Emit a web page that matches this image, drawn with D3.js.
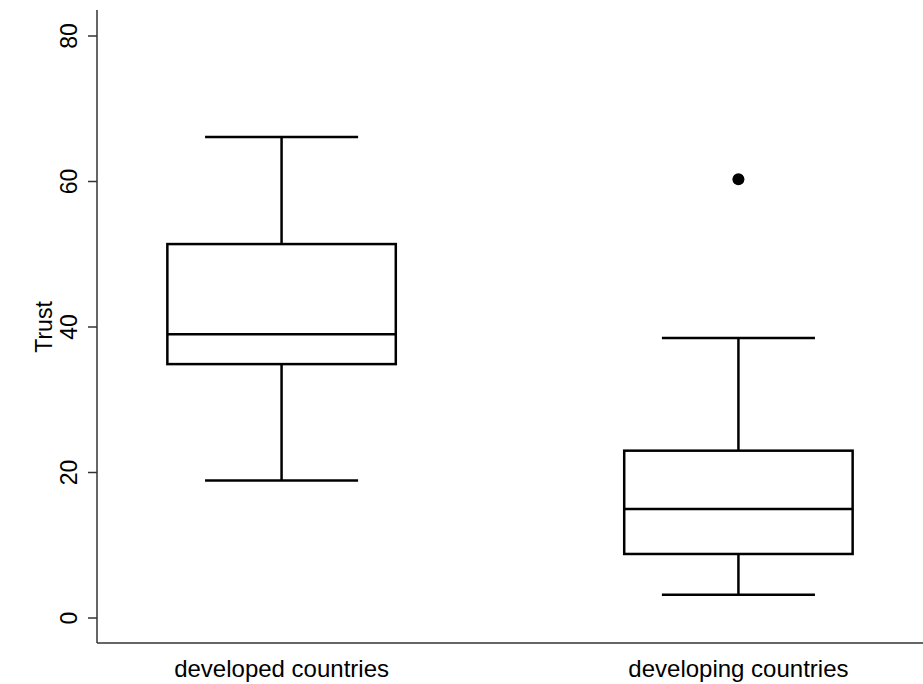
<!DOCTYPE html>
<html>
<head>
<meta charset="utf-8">
<script src="https://d3js.org/d3.v7.min.js"></script>
<style>
  body { margin: 0; background: #fff; }
  text { font-family: "Liberation Sans", Arial, sans-serif; fill: #000; }
</style>
</head>
<body>
<script>
var width = 923, height = 684;

// data
var groups = ["developed countries", "developing countries"];
var whiskerLow  = [18.9, 3.2];
var q1          = [34.9, 8.8];
var median      = [39.0, 15.0];
var q3          = [51.4, 23.0];
var whiskerHigh = [66.1, 38.5];
var outliers    = [[], [60.3]];
var yTicks = [0, 20, 40, 60, 80];

var svg = d3.select("body").append("svg")
  .attr("width", width)
  .attr("height", height);

var x = d3.scalePoint().domain(groups).range([97, 923]).padding(0.404);
var y = d3.scaleLinear().domain([0, 80]).range([618, 36]);
var step = x.step();
var boxW = step * 0.5, capW = step * 0.335;
var fs = "24px";

// axes
svg.append("line").attr("x1", 97).attr("x2", 97).attr("y1", 10).attr("y2", 643)
  .attr("stroke", "#333").attr("stroke-width", 1.5);
svg.append("line").attr("x1", 97).attr("x2", 923).attr("y1", 643).attr("y2", 643)
  .attr("stroke", "#333").attr("stroke-width", 1.5);

var yt = svg.append("g");
yt.selectAll("line").data(yTicks).enter().append("line")
  .attr("x1", 88).attr("x2", 97)
  .attr("y1", function(d){ return y(d); }).attr("y2", function(d){ return y(d); })
  .attr("stroke", "#333").attr("stroke-width", 1.5);
yt.selectAll("text").data(yTicks).enter().append("text")
  .attr("transform", function(d){ return "translate(77," + y(d) + ") rotate(-90)"; })
  .attr("text-anchor", "middle")
  .style("font-size", "23px")
  .text(function(d){ return d; });

svg.append("text")
  .attr("transform", "translate(52," + y(40) + ") rotate(-90)")
  .attr("text-anchor", "middle")
  .style("font-size", "23px")
  .text("Trust");

svg.selectAll(".xl").data(groups).enter().append("text")
  .attr("class", "xl")
  .attr("x", function(d){ return x(d); })
  .attr("y", 677)
  .attr("text-anchor", "middle")
  .style("font-size", fs)
  .text(function(d){ return d; });

// boxes
var box = svg.selectAll(".box").data(groups).enter().append("g").attr("class", "box");

box.append("line")
  .attr("x1", function(d){ return x(d); }).attr("x2", function(d){ return x(d); })
  .attr("y1", function(d, i){ return y(whiskerHigh[i]); })
  .attr("y2", function(d, i){ return y(whiskerLow[i]); })
  .attr("stroke", "#000").attr("stroke-width", 2.5);

box.append("rect")
  .attr("x", function(d){ return x(d) - boxW / 2; })
  .attr("width", boxW)
  .attr("y", function(d, i){ return y(q3[i]); })
  .attr("height", function(d, i){ return y(q1[i]) - y(q3[i]); })
  .attr("fill", "#fff").attr("stroke", "#000").attr("stroke-width", 2.5);

box.append("line")
  .attr("x1", function(d){ return x(d) - boxW / 2; })
  .attr("x2", function(d){ return x(d) + boxW / 2; })
  .attr("y1", function(d, i){ return y(median[i]); })
  .attr("y2", function(d, i){ return y(median[i]); })
  .attr("stroke", "#000").attr("stroke-width", 2.5);

[whiskerHigh, whiskerLow].forEach(function(arr){
  box.append("line")
    .attr("x1", function(d){ return x(d) - capW / 2; })
    .attr("x2", function(d){ return x(d) + capW / 2; })
    .attr("y1", function(d, i){ return y(arr[i]); })
    .attr("y2", function(d, i){ return y(arr[i]); })
    .attr("stroke", "#000").attr("stroke-width", 2.5);
});

groups.forEach(function(g, i){
  svg.selectAll(null).data(outliers[i]).enter().append("circle")
    .attr("cx", x(g)).attr("cy", function(d){ return y(d); })
    .attr("r", 6).attr("fill", "#000");
});
</script>
</body>
</html>
